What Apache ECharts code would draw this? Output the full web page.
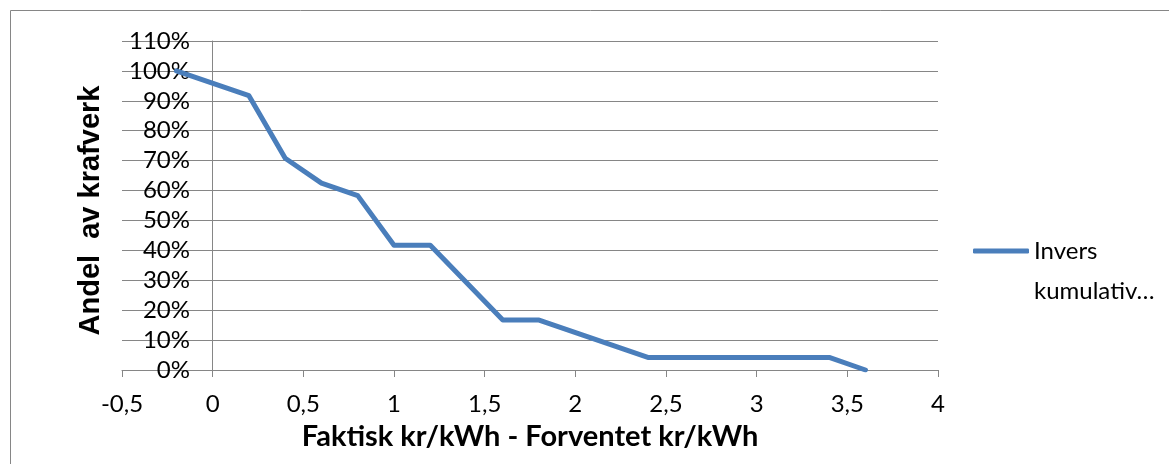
<!DOCTYPE html>
<html>
<head>
<meta charset="utf-8">
<script src="https://cdn.jsdelivr.net/npm/echarts@6/dist/echarts.min.js"></script>
<style>
  html, body { margin: 0; padding: 0; background: #ffffff; }
  #chart { width: 1169px; height: 464px; }
</style>
</head>
<body>
<div id="chart"></div>
<script>
// Deviation between actual and expected price (kr/kWh)
const priceDiff = [-0.2, 0.2, 0.4, 0.6, 0.8, 1.0, 1.2, 1.6, 1.8, 2.4, 3.4, 3.6];
// Share of power plants at or above each deviation (inverse cumulative)
const plantShare = [1.0, 0.917, 0.708, 0.625, 0.583, 0.417, 0.417, 0.167, 0.167, 0.042, 0.042, 0.0];

const seriesName = 'Invers kumulativ…';
const legendLines = ['Invers', 'kumulativ…'];
const xTitle = 'Faktisk kr/kWh - Forventet kr/kWh';
const yTitle = 'Andel  av krafverk';

const gridGrey = '#868686';
const lineBlue = '#4A7EBB';
const tickFont = 'Lato, "Open Sans", sans-serif';

const points = priceDiff.map((x, i) => [x, plantShare[i]]);

const chart = echarts.init(document.getElementById('chart'), null, { renderer: 'canvas' });

chart.setOption({
  animation: false,
  backgroundColor: '#ffffff',
  graphic: [{
    type: 'rect',
    shape: { x: 10.5, y: 10.5, width: 1200, height: 500 },
    style: { fill: 'none', stroke: gridGrey, lineWidth: 1 },
    silent: true,
    z: -10
  }],
  grid: {
    left: 122, right: 231, top: 41, bottom: 94,
    containLabel: false,
    outerBoundsMode: 'none'
  },
  legend: {
    data: [seriesName],
    orient: 'vertical',
    left: 968,
    top: 186,
    itemWidth: 56,
    itemHeight: 5,
    icon: 'roundRect',
    // leading empty line keeps the first text line level with the line icon
    formatter: () => '\n' + legendLines.join('\n'),
    textStyle: {
      fontFamily: tickFont,
      fontSize: 24,
      color: '#000000',
      lineHeight: 40
    }
  },
  xAxis: {
    type: 'value',
    min: -0.5,
    max: 4,
    interval: 0.5,
    name: xTitle,
    nameLocation: 'middle',
    nameGap: 52,
    nameMoveOverlap: false,
    nameTextStyle: {
      fontFamily: tickFont,
      fontWeight: 'bold',
      fontSize: 29,
      color: '#000000'
    },
    axisLine: { show: true, lineStyle: { color: gridGrey, width: 1 } },
    axisTick: { show: true, length: 7, lineStyle: { color: gridGrey } },
    splitLine: { show: false },
    axisLabel: {
      fontFamily: tickFont,
      fontSize: 24,
      color: '#000000',
      margin: 22,
      formatter: v => String(Math.round(v * 10) / 10).replace('.', ',')
    }
  },
  yAxis: {
    type: 'value',
    min: 0,
    max: 1.1,
    interval: 0.1,
    name: yTitle,
    nameLocation: 'middle',
    nameGap: 17,
    nameRotate: 90,
    nameMoveOverlap: false,
    nameTextStyle: {
      fontFamily: '"Liberation Sans", Arial, sans-serif',
      fontWeight: 'bold',
      fontSize: 29,
      color: '#000000',
      padding: [0, 10, 0, 0]
    },
    axisLine: { show: true, onZero: true, lineStyle: { color: gridGrey, width: 1 } },
    axisTick: { show: false },
    splitLine: { show: true, lineStyle: { color: gridGrey, width: 1 } },
    axisLabel: {
      fontFamily: tickFont,
      fontSize: 24,
      color: '#000000',
      margin: -68,
      formatter: v => Math.round(v * 100) + '%'
    }
  },
  series: [{
    name: seriesName,
    type: 'line',
    data: points,
    showSymbol: false,
    symbol: 'none',
    lineStyle: { color: lineBlue, width: 5, cap: 'round', join: 'round' },
    itemStyle: { color: lineBlue },
    z: 5
  }]
});
</script>
</body>
</html>
